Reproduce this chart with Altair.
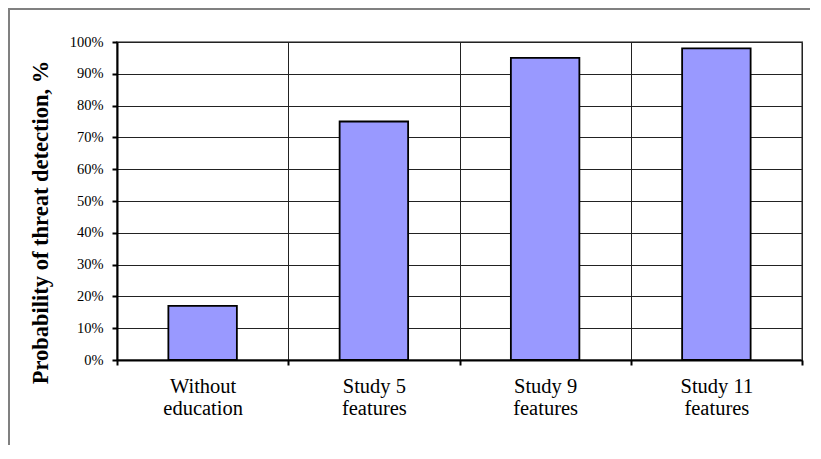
import altair as alt
import pandas as pd

categories = ["Without\neducation", "Study 5\nfeatures", "Study 9\nfeatures", "Study 11\nfeatures"]
values = [0.17, 0.75, 0.95, 0.98]
y_ticks = [0, 0.1, 0.2, 0.3, 0.4, 0.5, 0.6, 0.7, 0.8, 0.9, 1.0]

df = pd.DataFrame({"category": categories, "value": values})

FONT = "Liberation Serif"

bars = alt.Chart(df).mark_bar(
    color="#9999FF", stroke="#000000", strokeWidth=1.8, width=alt.RelativeBandSize(0.4)
).encode(
    x=alt.X(
        "category:N",
        sort=categories,
        scale=alt.Scale(paddingInner=0, paddingOuter=0),
        axis=alt.Axis(
            title=None,
            labelAngle=0,
            labelExpr="split(datum.label, '\\n')",
            labelFont=FONT,
            labelFontSize=20.5,
            labelColor="#000000",
            labelLineHeight=22.5,
            labelPadding=11,
            tickBand="extent",
            tickSize=5,
            tickWidth=2,
            tickColor="#000000",
            domainColor="#000000",
            domainWidth=2,
            grid=True,
            gridColor="#222222",
            gridWidth=1,
        ),
    ),
    y=alt.Y(
        "value:Q",
        scale=alt.Scale(domain=[0, 1], nice=False),
        axis=alt.Axis(
            values=y_ticks,
            format=".0%",
            title="Probability of threat detection, %",
            titleFont=FONT,
            titleFontSize=22.5,
            titleFontWeight="bold",
            titleColor="#000000",
            titleAngle=-90,
            titleAlign="center",
            titleBaseline="alphabetic",
            titleX=-70,
            titleY=180,
            labelFont=FONT,
            labelFontSize=14.5,
            labelColor="#000000",
            labelPadding=9,
            tickSize=5,
            tickWidth=2,
            tickColor="#000000",
            domainColor="#000000",
            domainWidth=2,
            grid=True,
            gridColor="#222222",
            gridWidth=1,
        ),
    ),
)

frame = alt.Chart(alt.Data(values=[{}])).mark_rect(
    filled=False, stroke="#808080", strokeWidth=2
).encode(
    x=alt.value(-108), x2=alt.value(800), y=alt.value(-33), y2=alt.value(500)
)

chart = alt.layer(frame, bars).properties(
    width=685,
    height=318,
    autosize=alt.AutoSizeParams(type="none"),
    padding={"left": 109, "top": 34, "right": 8, "bottom": 85},
    background="#ffffff",
).configure(
    font=FONT
).configure_axis(
    labelFont=FONT, titleFont=FONT
).configure_view(
    stroke="#888888", strokeWidth=2
)

chart.save("out.html", embed_options={"renderer": "svg", "actions": False})
